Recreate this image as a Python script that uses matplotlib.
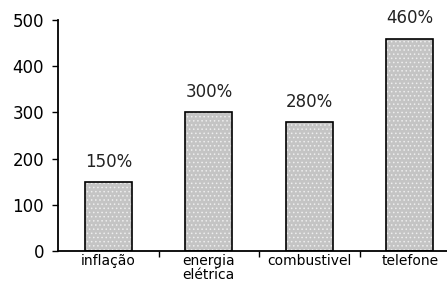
import numpy as np
import matplotlib
matplotlib.use("Agg")
import matplotlib.pyplot as plt

categories = ["inflação", "energia\nelétrica", "combustivel", "telefone"]
values = [150, 300, 280, 460]
value_labels = ["150%", "300%", "280%", "460%"]
yticks = [0, 100, 200, 300, 400, 500]

plt.rcParams['font.family'] = ['DejaVu Sans']
plt.rcParams['hatch.linewidth'] = 0.6

fig = plt.figure(figsize=(4.47, 2.87), dpi=100)
ax = fig.add_axes([0.130, 0.1254, 0.870, 0.8046])

x = np.arange(len(categories))
# dotted fill: gray face with white dot hatch, then black outline on top
ax.bar(x, values, width=0.47, color="#c4c4c4", edgecolor="#eeeeee", hatch="....", linewidth=0)
ax.bar(x, values, width=0.47, color="none", edgecolor="black", linewidth=1.2)

for xi, v, lab in zip(x, values, value_labels):
    ax.annotate(lab, (xi, v), xytext=(0, 8), textcoords="offset points",
                ha="center", va="bottom", fontsize=12, color="#222222")

ax.set_xlim(-0.5, 3.37)
ax.set_ylim(0, 500)
ax.set_yticks(yticks)
ax.tick_params(axis="y", direction="out", length=4, width=1, labelsize=12, pad=6)

# ticks between categories, labels at centers
ax.set_xticks(x[:-1] + 0.5)
ax.set_xticklabels([])
ax.set_xticks(x, minor=True)
ax.set_xticklabels(categories, minor=True, fontsize=10, linespacing=1.0)
ax.tick_params(axis="x", which="major", direction="out", length=4, width=1)
ax.tick_params(axis="x", which="minor", length=0, pad=2)

for s in ["top", "right"]:
    ax.spines[s].set_visible(False)
ax.spines["left"].set_linewidth(1.3)
ax.spines["bottom"].set_linewidth(1.3)

fig.savefig("out.png", dpi=100)
